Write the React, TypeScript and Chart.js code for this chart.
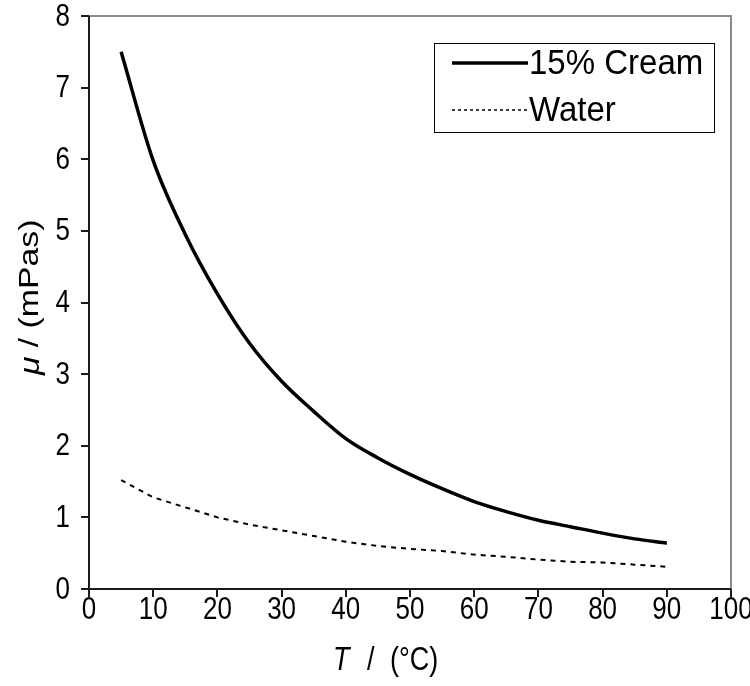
import React, { useEffect, useRef } from "react";
import { Chart, registerables } from "chart.js";

Chart.register(...registerables);

// ---- data ----
const temperatures = [5, 10, 15, 20, 25, 30, 35, 40, 45, 50, 55, 60, 65, 70, 75, 80, 85, 90];
const creamViscosity = [7.5, 5.98, 4.95, 4.12, 3.43, 2.9, 2.48, 2.1, 1.83, 1.6, 1.4, 1.22, 1.08, 0.96, 0.87, 0.78, 0.7, 0.64];
const waterViscosity = [1.52, 1.28, 1.14, 1.0, 0.9, 0.82, 0.74, 0.66, 0.6, 0.56, 0.53, 0.48, 0.45, 0.41, 0.38, 0.37, 0.34, 0.31];
const seriesLabels = ["15% Cream", "Water"];
const xTickMin = 0;
const xTickMax = 100;
const xTickStep = 10;
const yTickMin = 0;
const yTickMax = 8;
const yTickStep = 1;
const xTitleSymbol = "T";
const xTitleSlash = "/";
const xTitleUnit = "(°C)";
const yTitleSymbol = "μ";
const yTitleUnit = " / (mPas)";

const FONT = "'Liberation Sans', Arial, sans-serif";
const STRETCH = 1.2;
const TICK_LEN = 8;

function stretchedText(ctx: any, text: string, x: number, y: number, font: string, align: string, sy: number) {
  ctx.save();
  ctx.translate(x, y);
  ctx.scale(1, sy);
  ctx.font = font;
  ctx.textAlign = align;
  ctx.textBaseline = "middle";
  ctx.fillText(text, 0, 0);
  ctx.restore();
}

const zeroPad = (s: any) => {
  s.paddingLeft = 0;
  s.paddingRight = 0;
  s.paddingTop = 0;
  s.paddingBottom = 0;
};

const framePlugin = {
  id: "frameLines",
  afterDraw(chart: any) {
    const { ctx, chartArea, scales } = chart;
    const { left, right, top, bottom } = chartArea;
    ctx.save();
    ctx.strokeStyle = "#8a8a8a";
    ctx.lineWidth = 2;
    ctx.beginPath();
    ctx.moveTo(left, top);
    ctx.lineTo(right, top);
    ctx.lineTo(right, bottom);
    ctx.stroke();
    ctx.strokeStyle = "#1a1a1a";
    ctx.lineWidth = 2;
    ctx.beginPath();
    ctx.moveTo(left, top);
    ctx.lineTo(left, bottom);
    ctx.lineTo(right, bottom);
    ctx.stroke();
    ctx.beginPath();
    scales.x.ticks.forEach((t: any) => {
      const px = Math.round(scales.x.getPixelForValue(t.value));
      ctx.moveTo(px, bottom);
      ctx.lineTo(px, bottom + TICK_LEN);
    });
    scales.y.ticks.forEach((t: any) => {
      const py = Math.round(scales.y.getPixelForValue(t.value));
      ctx.moveTo(left, py);
      ctx.lineTo(left - TICK_LEN, py);
    });
    ctx.stroke();
    ctx.restore();
  },
};

const tickLabelPlugin = {
  id: "tickLabels",
  afterDraw(chart: any) {
    const { ctx, scales } = chart;
    const font = `26px ${FONT}`;
    ctx.save();
    ctx.fillStyle = "#000";
    const xs = scales.x;
    xs.ticks.forEach((t: any) => {
      const px = xs.getPixelForValue(t.value);
      stretchedText(ctx, String(t.value), px, xs.top + 21, font, "center", STRETCH);
    });
    const ys = scales.y;
    ys.ticks.forEach((t: any) => {
      const py = ys.getPixelForValue(t.value);
      stretchedText(ctx, String(t.value), ys.right - 19, py + 1, font, "right", STRETCH);
    });
    ctx.restore();
  },
};

const legendPlugin = {
  id: "boxLegend",
  afterDatasetsDraw(chart: any) {
    const { ctx, chartArea } = chart;
    const bx = chartArea.right - 297;
    const by = chartArea.top + 27;
    const bw = 280;
    const bh = 89;
    ctx.save();
    ctx.fillStyle = "#fff";
    ctx.fillRect(bx, by, bw, bh);
    ctx.strokeStyle = "#000";
    ctx.lineWidth = 1;
    ctx.strokeRect(bx + 0.5, by + 0.5, bw, bh);
    chart.data.datasets.forEach((ds: any, i: number) => {
      const y = by + 20 + i * 47;
      ctx.strokeStyle = ds.borderColor;
      ctx.lineWidth = i === 0 ? 3.5 : 1.5;
      ctx.setLineDash(i === 0 ? [] : [3, 3]);
      ctx.beginPath();
      ctx.moveTo(bx + 18, y);
      ctx.lineTo(bx + 94, y);
      ctx.stroke();
      ctx.setLineDash([]);
      ctx.fillStyle = "#000";
      stretchedText(ctx, ds.label, bx + 95, y + 1, `33px ${FONT}`, "left", 1.08);
    });
    ctx.restore();
  },
};

const titlePlugin = {
  id: "axisTitles",
  afterDraw(chart: any) {
    const { ctx, chartArea } = chart;
    const { left, right, bottom } = chartArea;
    ctx.save();
    ctx.fillStyle = "#000";
    const fx = 27;
    const cx = (left + right) / 2;
    const sx = cx - 77;
    const ty = bottom + 72;
    stretchedText(ctx, xTitleSymbol, sx, ty, `italic ${fx}px ${FONT}`, "left", 1.25);
    stretchedText(ctx, xTitleSlash, sx + 34, ty, `${fx}px ${FONT}`, "left", 1.25);
    stretchedText(ctx, xTitleUnit, sx + 57, ty, `${fx}px ${FONT}`, "left", 1.25);

    const fy = 27;
    ctx.save();
    ctx.translate(left - 58, bottom - 214);
    ctx.rotate(-Math.PI / 2);
    ctx.scale(1.25, 1);
    ctx.textAlign = "left";
    ctx.textBaseline = "middle";
    ctx.font = `italic ${fy}px ${FONT}`;
    const wM = ctx.measureText(yTitleSymbol).width;
    ctx.fillText(yTitleSymbol, 0, 0);
    ctx.font = `${fy}px ${FONT}`;
    ctx.fillText(yTitleUnit, wM, 0);
    ctx.restore();
    ctx.restore();
  },
};

export default function App() {
  const canvasRef = useRef<HTMLCanvasElement | null>(null);

  useEffect(() => {
    if (!canvasRef.current) return;
    const chart = new Chart(canvasRef.current, {
      type: "line",
      data: {
        datasets: [
          {
            label: seriesLabels[0],
            data: temperatures.map((t, i) => ({ x: t, y: creamViscosity[i] })),
            borderColor: "#000",
            borderWidth: 3.5,
            pointRadius: 0,
            cubicInterpolationMode: "monotone",
            fill: false,
          },
          {
            label: seriesLabels[1],
            data: temperatures.map((t, i) => ({ x: t, y: waterViscosity[i] })),
            borderColor: "#000",
            borderWidth: 2,
            borderDash: [5, 5],
            pointRadius: 0,
            tension: 0,
            fill: false,
          },
        ],
      },
      options: {
        animation: false,
        responsive: true,
        maintainAspectRatio: false,
        layout: { padding: { top: 16, right: 19, left: 0, bottom: 0 } },
        plugins: {
          legend: { display: false },
          tooltip: { enabled: false },
          title: { display: false },
        },
        scales: {
          x: {
            type: "linear",
            min: xTickMin,
            max: xTickMax,
            afterFit: (s: any) => {
              s.height = 97;
              zeroPad(s);
            },
            ticks: {
              stepSize: xTickStep,
              color: "rgba(0,0,0,0)",
              font: { size: 10 },
              maxRotation: 0,
              autoSkip: false,
            },
            grid: { display: false },
            border: { display: false },
          },
          y: {
            type: "linear",
            min: yTickMin,
            max: yTickMax,
            afterFit: (s: any) => {
              s.width = 89;
              zeroPad(s);
            },
            ticks: {
              stepSize: yTickStep,
              color: "rgba(0,0,0,0)",
              font: { size: 10 },
              autoSkip: false,
            },
            grid: { display: false },
            border: { display: false },
          },
        },
      },
      plugins: [framePlugin, legendPlugin, tickLabelPlugin, titlePlugin],
    } as any);
    return () => chart.destroy();
  }, []);

  return (
    <div style={{ position: "fixed", left: 0, top: 0, width: 750, height: 686, background: "#fff" }}>
      <canvas ref={canvasRef} />
    </div>
  );
}
